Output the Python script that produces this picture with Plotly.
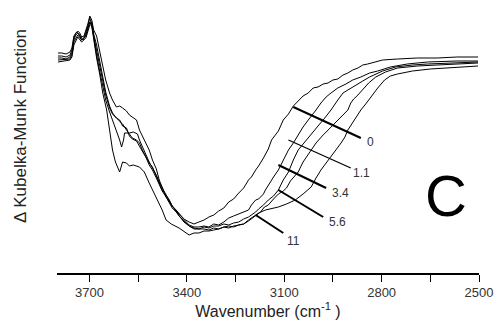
import plotly.graph_objects as go

# ---- data (wavenumber in cm^-1, Delta Kubelka-Munk in arbitrary units) ----
wn_0 = [3797, 3785, 3772, 3760, 3754, 3748, 3742, 3736, 3730, 3724, 3717, 3711, 3705, 3699, 3693, 3687,
        3678, 3668, 3659, 3650, 3638, 3629, 3617, 3607, 3598, 3586, 3577, 3568, 3555, 3546, 3537, 3525,
        3516, 3506, 3494, 3485, 3476, 3464, 3454, 3445, 3433, 3424, 3409, 3393, 3378, 3363, 3347, 3332,
        3317, 3302, 3286, 3271, 3256, 3240, 3225, 3210, 3201, 3188, 3179, 3164, 3149, 3139, 3118, 3103,
        3087, 3072, 3057, 3042, 3026, 3011, 2996, 2980, 2965, 2950, 2935, 2919, 2904, 2889, 2873, 2858,
        2843, 2818, 2797, 2751, 2690, 2629, 2568, 2503]
km_0 = [2.17, 2.17, 2.16, 2.18, 2.23, 2.35, 2.40, 2.42, 2.40, 2.36, 2.37, 2.42, 2.49, 2.57, 2.53, 2.43,
        2.37, 2.21, 2.06, 1.93, 1.80, 1.73, 1.66, 1.67, 1.65, 1.62, 1.58, 1.56, 1.53, 1.43, 1.37, 1.30,
        1.23, 1.13, 1.04, 0.93, 0.85, 0.76, 0.71, 0.67, 0.63, 0.60, 0.54, 0.51, 0.49, 0.51, 0.53, 0.56,
        0.58, 0.62, 0.65, 0.71, 0.74, 0.80, 0.85, 0.93, 0.96, 1.03, 1.07, 1.15, 1.24, 1.33, 1.42, 1.53,
        1.59, 1.67, 1.72, 1.77, 1.80, 1.85, 1.86, 1.89, 1.90, 1.93, 1.94, 1.98, 2.00, 2.03, 2.05, 2.08,
        2.09, 2.11, 2.13, 2.14, 2.15, 2.15, 2.16, 2.16]

wn_1p1 = [3797, 3785, 3772, 3760, 3754, 3748, 3742, 3736, 3730, 3724, 3717, 3711, 3705, 3699, 3693, 3687,
          3678, 3668, 3659, 3650, 3638, 3629, 3617, 3607, 3598, 3586, 3577, 3568, 3555, 3546, 3537, 3525,
          3516, 3506, 3494, 3485, 3476, 3464, 3454, 3445, 3433, 3424, 3409, 3393, 3378, 3363, 3347, 3332,
          3317, 3302, 3286, 3271, 3256, 3240, 3225, 3210, 3201, 3188, 3179, 3164, 3158, 3149, 3133, 3118,
          3103, 3087, 3072, 3057, 3042, 3026, 3011, 3002, 2987, 2971, 2956, 2935, 2910, 2889, 2864, 2837,
          2812, 2773, 2721, 2659, 2568, 2503]
km_1p1 = [2.15, 2.15, 2.14, 2.16, 2.20, 2.33, 2.38, 2.40, 2.37, 2.33, 2.35, 2.40, 2.47, 2.55, 2.49, 2.37,
          2.23, 2.08, 1.93, 1.78, 1.65, 1.59, 1.55, 1.52, 1.49, 1.43, 1.39, 1.35, 1.33, 1.30, 1.23, 1.16,
          1.10, 1.06, 0.97, 0.90, 0.83, 0.78, 0.72, 0.67, 0.62, 0.59, 0.53, 0.48, 0.46, 0.46, 0.47, 0.46,
          0.49, 0.48, 0.51, 0.55, 0.57, 0.59, 0.61, 0.63, 0.68, 0.73, 0.74, 0.79, 0.83, 0.88, 0.96, 1.03,
          1.13, 1.23, 1.30, 1.38, 1.46, 1.53, 1.59, 1.63, 1.70, 1.76, 1.80, 1.85, 1.89, 1.93, 1.96, 2.00,
          2.02, 2.06, 2.09, 2.11, 2.12, 2.12]

wn_3p4 = [3797, 3760, 3754, 3748, 3736, 3724, 3711, 3699, 3693, 3687, 3678, 3668, 3659, 3650, 3638, 3629,
          3617, 3607, 3598, 3586, 3577, 3568, 3555, 3546, 3537, 3525, 3516, 3506, 3494, 3485, 3476, 3464,
          3454, 3445, 3433, 3424, 3409, 3393, 3378, 3363, 3347, 3332, 3317, 3302, 3286, 3271, 3256, 3240,
          3225, 3210, 3201, 3188, 3179, 3164, 3149, 3133, 3118, 3103, 3087, 3072, 3057, 3042, 3026, 3011,
          2996, 2980, 2965, 2956, 2935, 2919, 2904, 2880, 2858, 2837, 2797, 2757, 2705, 2659, 2568, 2503]
km_3p4 = [2.13, 2.14, 2.18, 2.31, 2.38, 2.33, 2.37, 2.51, 2.51, 2.39, 2.28, 2.11, 1.95, 1.81, 1.67, 1.60,
          1.55, 1.53, 1.47, 1.45, 1.37, 1.34, 1.32, 1.27, 1.21, 1.15, 1.08, 1.03, 0.95, 0.88, 0.82, 0.76,
          0.70, 0.65, 0.61, 0.57, 0.51, 0.47, 0.45, 0.44, 0.46, 0.45, 0.47, 0.47, 0.49, 0.48, 0.50, 0.51,
          0.54, 0.56, 0.58, 0.61, 0.64, 0.68, 0.73, 0.77, 0.83, 0.93, 1.01, 1.13, 1.23, 1.29, 1.36, 1.41,
          1.47, 1.53, 1.59, 1.63, 1.73, 1.80, 1.83, 1.88, 1.92, 1.96, 2.02, 2.06, 2.08, 2.09, 2.10, 2.11]

wn_5p6 = [3797, 3760, 3754, 3748, 3736, 3724, 3711, 3699, 3693, 3687, 3678, 3668, 3659, 3650, 3638, 3629,
          3620, 3613, 3607, 3601, 3595, 3592, 3577, 3565, 3552, 3546, 3537, 3525, 3516, 3506, 3494, 3485,
          3476, 3464, 3454, 3445, 3433, 3424, 3409, 3393, 3378, 3363, 3347, 3332, 3317, 3302, 3286, 3271,
          3256, 3240, 3225, 3210, 3188, 3173, 3161, 3149, 3133, 3118, 3103, 3093, 3081, 3069, 3057, 3042,
          3029, 3017, 3002, 2983, 2965, 2947, 2928, 2904, 2895, 2886, 2873, 2858, 2840, 2818, 2788, 2751,
          2690, 2629, 2568, 2503]
km_5p6 = [2.11, 2.13, 2.16, 2.28, 2.36, 2.31, 2.35, 2.48, 2.48, 2.35, 2.18, 2.01, 1.85, 1.73, 1.61, 1.53,
          1.45, 1.40, 1.33, 1.26, 1.33, 1.40, 1.40, 1.41, 1.39, 1.33, 1.26, 1.18, 1.11, 1.05, 0.98, 0.91,
          0.85, 0.78, 0.73, 0.67, 0.62, 0.57, 0.52, 0.47, 0.44, 0.44, 0.44, 0.43, 0.45, 0.44, 0.46, 0.47,
          0.46, 0.48, 0.49, 0.52, 0.57, 0.61, 0.66, 0.68, 0.74, 0.79, 0.82, 0.85, 0.92, 0.97, 1.01, 1.11,
          1.17, 1.23, 1.30, 1.37, 1.43, 1.49, 1.55, 1.63, 1.70, 1.74, 1.78, 1.83, 1.90, 1.96, 2.01, 2.05,
          2.07, 2.08, 2.09, 2.10]

wn_11 = [3797, 3785, 3772, 3760, 3754, 3748, 3739, 3730, 3720, 3711, 3705, 3699, 3693, 3687, 3678, 3668,
         3659, 3647, 3638, 3629, 3620, 3607, 3598, 3586, 3577, 3565, 3546, 3531, 3516, 3506, 3494, 3485,
         3476, 3464, 3448, 3424, 3409, 3393, 3378, 3363, 3347, 3332, 3317, 3302, 3286, 3271, 3256, 3240,
         3225, 3210, 3201, 3179, 3158, 3133, 3118, 3093, 3066, 3042, 3017, 3002, 2987, 2971, 2956, 2941,
         2925, 2913, 2904, 2889, 2864, 2849, 2834, 2812, 2791, 2773, 2751, 2705, 2650, 2568, 2503]
km_11 = [2.20, 2.20, 2.19, 2.21, 2.25, 2.37, 2.41, 2.38, 2.33, 2.38, 2.45, 2.51, 2.47, 2.33, 2.15, 1.98,
         1.80, 1.63, 1.43, 1.23, 1.11, 1.01, 1.11, 1.10, 1.07, 1.08, 1.06, 1.01, 0.90, 0.83, 0.76, 0.70,
         0.63, 0.53, 0.49, 0.45, 0.42, 0.38, 0.40, 0.40, 0.42, 0.42, 0.43, 0.44, 0.46, 0.45, 0.47, 0.48,
         0.49, 0.53, 0.55, 0.60, 0.63, 0.65, 0.66, 0.69, 0.73, 0.79, 0.86, 0.95, 1.03, 1.10, 1.16, 1.23,
         1.30, 1.36, 1.43, 1.51, 1.63, 1.69, 1.76, 1.85, 1.93, 1.97, 1.99, 2.02, 2.04, 2.06, 2.07]

series_names = ["0", "1.1", "3.4", "5.6", "11"]
series_wn = [wn_0, wn_1p1, wn_3p4, wn_5p6, wn_11]
series_km = [km_0, km_1p1, km_3p4, km_5p6, km_11]

# label leader lines: (start wn, start km, end wn, end km), label anchor (wn, km)
leader_start_wn = [3072, 3087, 3118, 3118, 3188]
leader_start_km = [1.66, 1.33, 1.08, 0.83, 0.58]
leader_end_wn = [2864, 2895, 2971, 2980, 3103]
leader_end_km = [1.35, 1.05, 0.85, 0.56, 0.40]
label_wn = [2850, 2895, 2958, 2967, 3097]
label_km = [1.31, 1.00, 0.80, 0.51, 0.32]
leader_widths = [2, 1.3, 2, 2, 2]

x_tick_major = 300
x_tick_minor = 150
x_range = [3800, 2500]
y_range = [0, 2.68]

FONT = "Arial, Liberation Sans, Helvetica, sans-serif"

fig = go.Figure()
for name, xs, ys in zip(series_names, series_wn, series_km):
    fig.add_trace(go.Scatter(x=xs, y=ys, mode="lines", name=name,
                             line=dict(color="black", width=1), showlegend=False,
                             hoverinfo="skip"))

for i, name in enumerate(series_names):
    fig.add_shape(type="line", xref="x", yref="y",
                  x0=leader_start_wn[i], y0=leader_start_km[i],
                  x1=leader_end_wn[i], y1=leader_end_km[i],
                  line=dict(color="black", width=leader_widths[i]))
    fig.add_annotation(x=label_wn[i], y=label_km[i], xref="x", yref="y",
                       text=name, showarrow=False, xanchor="left", yanchor="middle",
                       font=dict(family=FONT, size=12, color="#333333"))

fig.add_annotation(xref="paper", yref="paper", x=0.922, y=0.29,
                   text="C", showarrow=False, xanchor="center", yanchor="middle",
                   font=dict(family=FONT, size=58, color="black"))

fig.add_annotation(xref="paper", yref="paper", x=-0.087, y=0.55,
                   text="\u0394 Kubelka-Munk Function", textangle=-90,
                   showarrow=False, xanchor="center", yanchor="middle",
                   font=dict(family=FONT, size=17, color="#222222"))

fig.update_layout(
    width=498, height=325,
    margin=dict(l=57, r=16, t=5, b=52),
    paper_bgcolor="white", plot_bgcolor="white",
    font=dict(family=FONT, color="#222222"),
    xaxis=dict(range=x_range, showgrid=False, zeroline=False,
               showline=True, linecolor="black", linewidth=1.5,
               ticks="outside", ticklen=7, tickwidth=1, tickcolor="black",
               tick0=2500, dtick=x_tick_major,
               tickfont=dict(family=FONT, size=13, color="#333333"),
               minor=dict(ticks="outside", ticklen=7, tickwidth=1, tickcolor="black",
                          tick0=2500, dtick=x_tick_minor, showgrid=False),
               title=dict(text="Wavenumber (cm<sup>-1</sup> )",
                          font=dict(family=FONT, size=16, color="#222222"),
                          standoff=6)),
    yaxis=dict(range=y_range, visible=False),
)

fig.write_html("out.html",
               config={"displayModeBar": False, "staticPlot": True},
               post_script="document.body.style.margin='0';document.body.style.overflow='hidden';")
